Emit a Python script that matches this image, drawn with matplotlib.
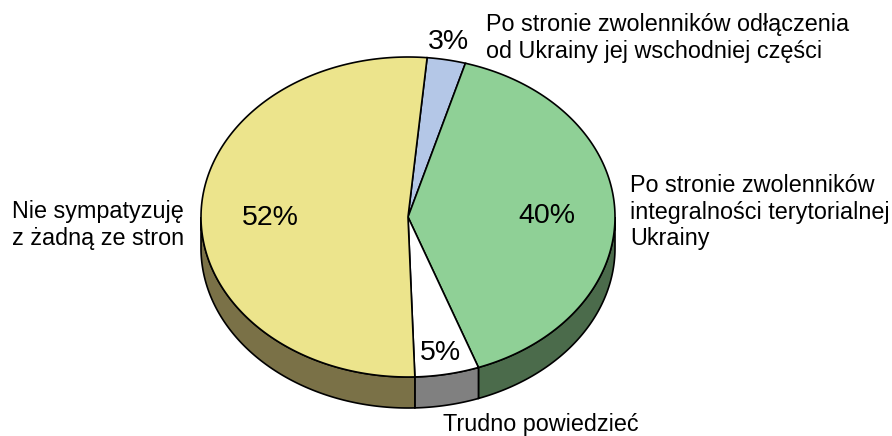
import numpy as np
import matplotlib.pyplot as plt
from matplotlib.patches import Polygon

plt.rcParams['font.family'] = ['Liberation Sans', 'DejaVu Sans']

# data (clockwise from the top)
labels = ['Po stronie zwolenników odłączenia\nod Ukrainy jej wschodniej części',
          'Po stronie zwolenników\nintegralności terytorialnej\nUkrainy',
          'Trudno powiedzieć',
          'Nie sympatyzuję\nz żadną ze stron']
values = [3, 40, 5, 52]
top_colors = ['#b4c7e7', '#8fd096', '#ffffff', '#ece48c']
side_colors = ['#5a6373', '#4b6b4b', '#808080', '#7a7147']

# geometry in pixel space
cx, cy = 408, 217
rx, ry = 207, 160
depth = 31
start = 84.7

fig = plt.figure(figsize=(8.92, 4.36), dpi=100)
ax = fig.add_axes([0, 0, 1, 1])
ax.set_xlim(0, 892)
ax.set_ylim(436, 0)
ax.axis('off')

def arc(a0, a1, n=200):
    t = np.radians(np.linspace(a0, a1, n))
    return cx + rx * np.cos(t), cy - ry * np.sin(t)

# slice angles, clockwise
bounds = []
a = start
for v in values:
    b = a - v * 3.6
    bounds.append((a, b))
    a = b

# side walls (only the front half, angles in [-180, 0])
for (a0, a1), col in zip(bounds, side_colors):
    for shift in (0, -360, 360):
        lo = max(min(a0, a1) + shift, -180)
        hi = min(max(a0, a1) + shift, 0)
        if hi > lo:
            x, y = arc(lo, hi)
            pts = np.vstack([np.column_stack([x, y]),
                             np.column_stack([x[::-1], y[::-1] + depth])])
            ax.add_patch(Polygon(pts, closed=True, facecolor=col,
                                 edgecolor='black', linewidth=1.2, zorder=1))

# top faces
for (a0, a1), col in zip(bounds, top_colors):
    x, y = arc(a0, a1)
    pts = np.vstack([[cx, cy], np.column_stack([x, y])])
    ax.add_patch(Polygon(pts, closed=True, facecolor=col,
                         edgecolor='black', linewidth=1.2, zorder=2))

# percentage labels
pct_pos = [(448, 42), (547, 216), (440, 353), (270, 218)]
for v, (px, py) in zip(values, pct_pos):
    ax.text(px, py, f'{v}%', fontsize=20.5, ha='center', va='center', zorder=3)

# category labels
lab_pos = [(486, 38), (630, 212), (443, 424), (12, 225)]
for lab, (px, py) in zip(labels, lab_pos):
    ax.text(px, py, lab, fontsize=16.8, ha='left', va='center', linespacing=1.2, zorder=3)

fig.savefig('out.png', dpi=100)
